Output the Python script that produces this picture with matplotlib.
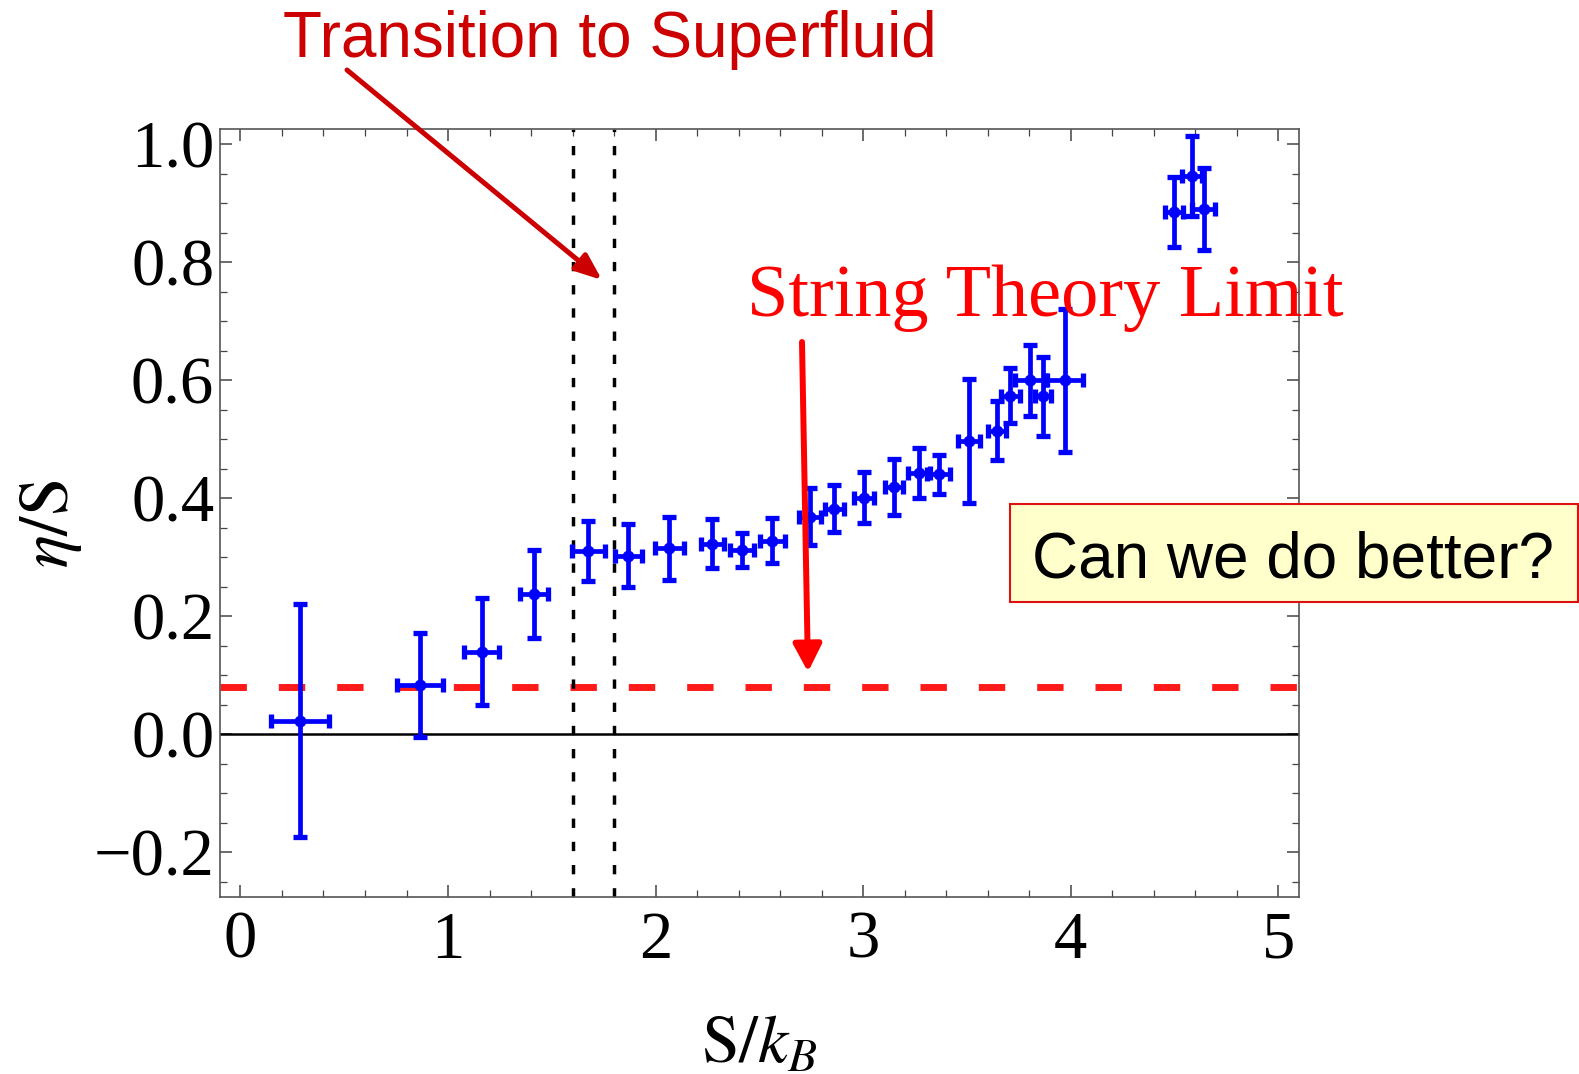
import matplotlib
matplotlib.use("Agg")
import matplotlib.pyplot as plt
from matplotlib.patches import Rectangle
from matplotlib.ticker import MultipleLocator
import numpy as np

# Entropy per particle (S/k_B) with horizontal uncertainty
S_kB = [0.287, 0.866, 1.163, 1.414, 1.675, 1.869, 2.067, 2.274, 2.417, 2.563,
        2.745, 2.862, 3.002, 3.150, 3.270, 3.364, 3.508, 3.645, 3.709, 3.806,
        3.867, 3.971, 4.497, 4.585, 4.641]
S_err = [0.141, 0.110, 0.084, 0.068, 0.079, 0.064, 0.068, 0.055, 0.056, 0.060,
         0.053, 0.048, 0.048, 0.044, 0.052, 0.054, 0.053, 0.044, 0.046, 0.075,
         0.038, 0.087, 0.043, 0.048, 0.056]
# Viscosity to entropy ratio with vertical uncertainty
eta_S = [0.023, 0.083, 0.140, 0.238, 0.310, 0.303, 0.315, 0.323, 0.312, 0.328,
         0.369, 0.382, 0.401, 0.419, 0.443, 0.441, 0.497, 0.514, 0.574, 0.600,
         0.573, 0.600, 0.885, 0.946, 0.890]
eta_err = [0.197, 0.088, 0.091, 0.075, 0.051, 0.053, 0.053, 0.042, 0.029, 0.038,
           0.049, 0.040, 0.043, 0.048, 0.042, 0.033, 0.105, 0.050, 0.047, 0.060,
           0.067, 0.121, 0.060, 0.068, 0.070]

# KSS bound 1/(4 pi) and the superfluid transition window
kss_bound = 1.0 / (4.0 * np.pi)
transition_S = [1.6, 1.8]

x_ticks = [0, 1, 2, 3, 4, 5]
y_ticks = [-0.2, 0.0, 0.2, 0.4, 0.6, 0.8, 1.0]

plt.rcParams["lines.scale_dashes"] = False
plt.rcParams["mathtext.fontset"] = "stix"

W, H = 1579, 1074
fig = plt.figure(figsize=(W / 100, H / 100), dpi=100)
ax = fig.add_axes([219.7 / W, 1 - 896.7 / H, (1299 - 219.7) / W, (896.7 - 129.3) / H])

ax.set_xlim(-0.1, 5.1)
ax.set_ylim(-0.275, 1.025)

# reference lines
ax.axhline(0.0, color="black", lw=1.8, zorder=2)
ax.axhline(kss_bound, color="#ff1a1a", lw=5, dashes=(19, 23), dash_capstyle="butt",
           zorder=2)
for xv in transition_S:
    ax.axvline(xv, color="black", lw=2.5, dashes=(6.7, 10), zorder=2)

ax.errorbar(S_kB, eta_S, xerr=S_err, yerr=eta_err, fmt="o", color="#0000ff",
            ms=7.5, elinewidth=3.4, capsize=5, capthick=3.8, zorder=4)

# ticks on all sides, pointing inward
ax.set_xticks(x_ticks)
ax.set_yticks(y_ticks)
ax.xaxis.set_minor_locator(MultipleLocator(0.2))
ax.yaxis.set_minor_locator(MultipleLocator(0.05))
ax.tick_params(which="both", direction="in", top=True, right=True, color="#444444")
ax.tick_params(which="major", length=8.5, width=1.1)
ax.tick_params(which="minor", length=5, width=0.9)
ax.tick_params(axis="x", which="major", pad=10)
ax.tick_params(axis="y", which="major", pad=4)
ax.set_xticklabels([str(v) for v in x_ticks])
ax.set_yticklabels(["\u22120.2" if v < 0 else f"{v:.1f}" for v in y_ticks])
for lab in ax.get_xticklabels() + ax.get_yticklabels():
    lab.set_fontfamily("Liberation Serif")
    lab.set_fontsize(48)
for sp in ax.spines.values():
    sp.set_color("#555555")
    sp.set_linewidth(1.2)

ax.set_ylabel(r"$\eta/\mathrm{S}$", fontsize=50)
ax.yaxis.label.set_ha("center")
ax.yaxis.label.set_va("center")
ax.yaxis.set_label_coords((50.3 - 219.7) / (1299 - 219.7), 0.486)
ax.set_xlabel(r"$\mathrm{S}/k_B$", fontsize=49)
ax.xaxis.label.set_va("baseline")
ax.xaxis.set_label_coords(0.4997, (896.7 - 1062) / (896.7 - 129.3))

# annotations
fig.text(283 / W, 1 - 57.3 / H, "Transition to Superfluid", fontsize=46,
         family="Liberation Sans", color="#cc0000", ha="left", va="baseline")
ax.annotate("", xy=(602 / W, 1 - 280 / H), xycoords="figure fraction",
            xytext=(347 / W, 1 - 70 / H), textcoords="figure fraction",
            arrowprops=dict(arrowstyle="-|>,head_length=0.8,head_width=0.32",
                            mutation_scale=20, lw=3.6, color="#cc0000",
                            shrinkA=0, shrinkB=0), zorder=6)

fig.text(747 / W, 1 - 315.7 / H, "String Theory Limit", fontsize=53.5,
         family="Liberation Serif", color="#ff0000", ha="left", va="baseline",
         zorder=6)
ax.annotate("", xy=(808 / W, 1 - 672 / H), xycoords="figure fraction",
            xytext=(802 / W, 1 - 342 / H), textcoords="figure fraction",
            arrowprops=dict(arrowstyle="-|>,head_length=0.83,head_width=0.43",
                            mutation_scale=20, lw=4.3, color="#ff0000",
                            shrinkA=0, shrinkB=0), zorder=6)

box = Rectangle((1010 / W, 1 - 602 / H), 568 / W, 98 / H, transform=fig.transFigure,
                facecolor="#ffffcc", edgecolor="#dd1111", lw=1.5, zorder=7)
fig.patches.append(box)
fig.text(1031.6 / W, 1 - 577.3 / H, "Can we do better?", fontsize=46,
         family="Liberation Sans", color="black", ha="left", va="baseline", zorder=8)

fig.savefig("out.png", dpi=100)
